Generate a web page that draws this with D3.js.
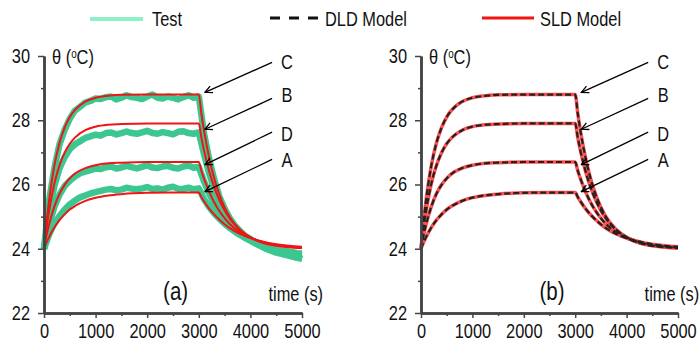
<!DOCTYPE html>
<html>
<head>
<meta charset="utf-8">
<script src="https://cdn.jsdelivr.net/npm/d3@7"></script>
<style>
  body { margin: 0; background: #fff; }
</style>
</head>
<body>
<div id="container"></div>
<script>
const width = 699;
const height = 343;
const font = "'Liberation Sans', Arial, sans-serif";
const narrow = 0.82; // squeeze glyphs to look like Arial Narrow

// model sample times (s)
const times = [0, 50, 100, 200, 300, 400, 500, 600, 800, 1000, 1250, 1500, 2000, 2500, 3000,
    3050, 3100, 3200, 3300, 3400, 3500, 3600, 3800, 4000, 4250, 4500, 4750, 5000];

// SLD model temperatures (°C)
const sldA = [24.0, 24.20, 24.37, 24.66, 24.89, 25.07, 25.22, 25.33, 25.49, 25.59, 25.66, 25.70, 25.74, 25.75, 25.75,
    25.61, 25.48, 25.25, 25.06, 24.90, 24.76, 24.64, 24.46, 24.33, 24.22, 24.14, 24.09, 24.06];
const sldB = [24.0, 24.65, 25.19, 26.02, 26.59, 26.99, 27.27, 27.46, 27.69, 27.80, 27.86, 27.88, 27.90, 27.90, 27.90,
    27.46, 27.07, 26.42, 25.91, 25.51, 25.19, 24.94, 24.58, 24.36, 24.20, 24.11, 24.06, 24.03];
const sldC = [24.0, 24.84, 25.53, 26.58, 27.29, 27.77, 28.10, 28.32, 28.58, 28.70, 28.76, 28.79, 28.80, 28.80, 28.80,
    28.21, 27.69, 26.84, 26.18, 25.68, 25.29, 24.99, 24.59, 24.35, 24.18, 24.09, 24.05, 24.02];
const sldD = [24.0, 24.42, 24.76, 25.31, 25.71, 25.99, 26.19, 26.34, 26.51, 26.60, 26.66, 26.68, 26.70, 26.70, 26.70,
    26.43, 26.19, 25.78, 25.44, 25.17, 24.95, 24.77, 24.51, 24.34, 24.20, 24.12, 24.07, 24.04];

// DLD model lies on top of the SLD curves
const dldA = sldA, dldB = sldB, dldC = sldC, dldD = sldD;

// test record sample times (s)
const testTimes = [0, 100, 200, 300, 400, 500, 600, 700, 800, 900, 1000, 1100, 1200, 1300, 1400, 1500, 1600,
    1700, 1800, 1900, 2000, 2100, 2200, 2300, 2400, 2500, 2600, 2700, 2800, 2900, 3000, 3100, 3200, 3300,
    3400, 3500, 3600, 3700, 3800, 3900, 4000, 4100, 4200, 4300, 4400, 4500, 4600, 4700, 4800, 4900, 5000];

const testA = [24.0, 24.45, 24.78, 25.02, 25.22, 25.38, 25.5, 25.6, 25.66, 25.72, 25.76, 25.8, 25.84, 25.86, 25.82,
    25.84, 25.9, 25.87, 25.85, 25.88, 25.92, 25.86, 25.88, 25.84, 25.9, 25.93, 25.87, 25.86, 25.9, 25.85, 25.88,
    25.55, 25.3, 25.1, 24.93, 24.78, 24.65, 24.53, 24.43, 24.34, 24.26, 24.18, 24.1, 24.04, 23.98, 23.92, 23.88,
    23.82, 23.78, 23.74, 23.68];
const testB = [24.0, 25.1, 25.95, 26.5, 26.85, 27.1, 27.25, 27.35, 27.45, 27.5, 27.55, 27.52, 27.6, 27.62, 27.56,
    27.6, 27.65, 27.6, 27.58, 27.62, 27.67, 27.6, 27.58, 27.63, 27.6, 27.56, 27.64, 27.66, 27.6, 27.58, 27.62,
    26.95, 26.35, 25.85, 25.45, 25.12, 24.88, 24.68, 24.52, 24.38, 24.28, 24.18, 24.1, 24.03, 23.98, 23.94, 23.9,
    23.86, 23.84, 23.8, 23.78];
const testC = [24.0, 25.5, 26.5, 27.25, 27.7, 28.05, 28.3, 28.42, 28.55, 28.6, 28.68, 28.66, 28.72, 28.74, 28.65,
    28.7, 28.78, 28.72, 28.7, 28.66, 28.74, 28.8, 28.7, 28.68, 28.74, 28.7, 28.65, 28.72, 28.78, 28.7, 28.74,
    27.6, 26.8, 26.15, 25.62, 25.25, 24.95, 24.72, 24.55, 24.4, 24.3, 24.2, 24.12, 24.08, 24.0, 23.98, 23.95,
    23.92, 23.9, 23.86, 23.85];
const testD = [24.0, 24.75, 25.3, 25.68, 25.95, 26.12, 26.25, 26.35, 26.4, 26.45, 26.5, 26.48, 26.54, 26.56, 26.5,
    26.53, 26.58, 26.54, 26.5, 26.55, 26.6, 26.53, 26.51, 26.56, 26.58, 26.52, 26.5, 26.56, 26.59, 26.52, 26.55,
    26.1, 25.72, 25.4, 25.12, 24.9, 24.72, 24.57, 24.45, 24.34, 24.25, 24.16, 24.08, 24.0, 23.94, 23.88, 23.84,
    23.8, 23.76, 23.72, 23.7];

// arrow call-outs: letter, tail (time, °C), tip (time, °C)
const calloutLabels = ["C", "B", "D", "A"];
const calloutTail = [[4420, 29.8], [4420, 28.68], [4420, 27.63], [4420, 26.78]];
const calloutTip = [[3120, 28.87], [3120, 27.72], [3120, 26.62], [3120, 25.78]];
const calloutText = [[4710, 29.83], [4710, 28.78], [4710, 27.57], [4710, 26.76]];

const yMajor = [22, 24, 26, 28, 30];
const yMinor = [23, 25, 27, 29];
const xMajor = [0, 1000, 2000, 3000, 4000, 5000];
const xMinor = [500, 1500, 2500, 3500, 4500];

const testColor = "#3cc690";
const redColor = "#f01414";

// move x/y into a transform so the glyphs can be squeezed horizontally
const condense = sel => sel.each(function () {
    const t = d3.select(this);
    const tx = +t.attr("x") || 0;
    const ty = +t.attr("y") || 0;
    t.attr("x", 0).attr("y", 0)
        .attr("transform", `translate(${tx},${ty}) scale(${narrow},1)`);
});

const svg = d3.create("svg")
    .attr("width", width)
    .attr("height", height)
    .style("font-family", font);

svg.append("rect").attr("width", width).attr("height", height).attr("fill", "#fff");

svg.append("defs").append("marker")
    .attr("id", "arrowhead")
    .attr("viewBox", "0 0 10 10")
    .attr("refX", 9)
    .attr("refY", 5)
    .attr("markerWidth", 9)
    .attr("markerHeight", 9)
    .attr("markerUnits", "userSpaceOnUse")
    .attr("orient", "auto")
    .append("path")
    .attr("d", "M1,1 L9,5 L1,9")
    .attr("fill", "none")
    .attr("stroke", "black")
    .attr("stroke-width", 1.4);

const y = d3.scaleLinear().domain([22, 30]).range([313, 56]);

const drawPanel = (xRange, label, kind) => {
    const x = d3.scaleLinear().domain([0, 5000]).range(xRange);
    const g = svg.append("g");

    const modelLine = d3.line()
        .x(d => x(d[0]))
        .y(d => y(d[1]))
        .curve(d3.curveMonotoneX);

    const testLine = d3.line()
        .x(d => x(d[0]))
        .y(d => y(d[1]));

    if (kind === "test") {
        g.selectAll(".test")
            .data([testA, testB, testC, testD])
            .enter()
            .append("path")
            .attr("d", s => testLine(testTimes.map((t, i) => [t, s[i]])))
            .attr("fill", "none")
            .attr("stroke", testColor)
            .attr("stroke-width", 6.5)
            .attr("stroke-linejoin", "round");
        g.selectAll(".sld")
            .data([sldA, sldB, sldC, sldD])
            .enter()
            .append("path")
            .attr("d", s => modelLine(times.map((t, i) => [t, s[i]])))
            .attr("fill", "none")
            .attr("stroke", redColor)
            .attr("stroke-width", 2);
    } else {
        g.selectAll(".sld")
            .data([sldA, sldB, sldC, sldD])
            .enter()
            .append("path")
            .attr("d", s => modelLine(times.map((t, i) => [t, s[i]])))
            .attr("fill", "none")
            .attr("stroke", "#ff5050")
            .attr("stroke-width", 3.5);
        g.selectAll(".dld")
            .data([dldA, dldB, dldC, dldD])
            .enter()
            .append("path")
            .attr("d", s => modelLine(times.map((t, i) => [t, s[i]])))
            .attr("fill", "none")
            .attr("stroke", "#222")
            .attr("stroke-width", 2.2)
            .attr("stroke-dasharray", "6,3");
    }

    // axes
    g.append("g")
        .attr("transform", `translate(${xRange[0]},0)`)
        .call(d3.axisLeft(y).tickValues(yMajor).tickSize(6).tickSizeOuter(0).tickPadding(8));
    g.append("g")
        .attr("transform", `translate(${xRange[0]},0)`)
        .call(d3.axisLeft(y).tickValues(yMinor).tickSize(3).tickSizeOuter(0).tickFormat(""));
    g.append("g")
        .attr("transform", `translate(0,${y(22)})`)
        .call(d3.axisBottom(x).tickValues(xMajor).tickFormat(d3.format("d"))
            .tickSize(5).tickSizeOuter(0).tickPadding(6));
    g.append("g")
        .attr("transform", `translate(0,${y(22)})`)
        .call(d3.axisBottom(x).tickValues(xMinor).tickSize(3).tickSizeOuter(0).tickFormat(""));

    g.selectAll(".domain").attr("stroke", "#444").attr("stroke-width", 2.5);
    g.selectAll(".tick line").attr("stroke", "#444").attr("stroke-width", 1.5);
    g.selectAll(".tick text")
        .attr("font-family", font)
        .attr("font-size", 20)
        .attr("fill", "#111")
        .call(condense);

    // y title
    const title = g.append("text")
        .attr("x", xRange[0] + 8)
        .attr("y", 64)
        .attr("font-size", 20)
        .attr("fill", "#111");
    title.append("tspan").text("θ ");
    title.append("tspan").text("(");
    title.append("tspan").attr("font-size", 12).attr("dy", -6).text("o");
    title.append("tspan").attr("dy", 6).text("C)");
    title.call(condense);

    g.append("text")
        .attr("x", x(4350))
        .attr("y", 301)
        .attr("font-size", 20)
        .attr("fill", "#111")
        .text("time (s)")
        .call(condense);

    g.append("text")
        .attr("x", x(2550))
        .attr("y", 300)
        .attr("text-anchor", "middle")
        .attr("font-size", 25)
        .attr("fill", "#111")
        .text(label)
        .call(condense);

    // call-outs
    g.selectAll(".callout")
        .data(calloutLabels)
        .enter()
        .append("line")
        .attr("x1", (_, i) => x(calloutTail[i][0]))
        .attr("y1", (_, i) => y(calloutTail[i][1]))
        .attr("x2", (_, i) => x(calloutTip[i][0]))
        .attr("y2", (_, i) => y(calloutTip[i][1]))
        .attr("stroke", "black")
        .attr("stroke-width", 1.3)
        .attr("marker-end", "url(#arrowhead)");

    g.selectAll(".callout-label")
        .data(calloutLabels)
        .enter()
        .append("text")
        .attr("x", (_, i) => x(calloutText[i][0]))
        .attr("y", (_, i) => y(calloutText[i][1]))
        .attr("text-anchor", "middle")
        .attr("dominant-baseline", "central")
        .attr("font-size", 20)
        .attr("fill", "#111")
        .text(d => d)
        .call(condense);
};

drawPanel([44, 302], "(a)", "test");
drawPanel([421, 678], "(b)", "model");

// legend
const legend = svg.append("g");
legend.append("line")
    .attr("x1", 90).attr("x2", 143).attr("y1", 19).attr("y2", 19)
    .attr("stroke", "#8ef0c6").attr("stroke-width", 4);
legend.append("line")
    .attr("x1", 270).attr("x2", 318).attr("y1", 18).attr("y2", 18)
    .attr("stroke", "#111").attr("stroke-width", 3).attr("stroke-dasharray", "10,9");
legend.append("line")
    .attr("x1", 482).attr("x2", 534).attr("y1", 18).attr("y2", 18)
    .attr("stroke", redColor).attr("stroke-width", 3);
legend.selectAll("text")
    .data([[152, "Test"], [325, "DLD Model"], [540, "SLD Model"]])
    .enter()
    .append("text")
    .attr("x", d => d[0])
    .attr("y", 26)
    .attr("font-size", 20)
    .attr("fill", "#111")
    .text(d => d[1])
    .call(condense);

d3.select("#container").append(() => svg.node());
</script>
</body>
</html>
